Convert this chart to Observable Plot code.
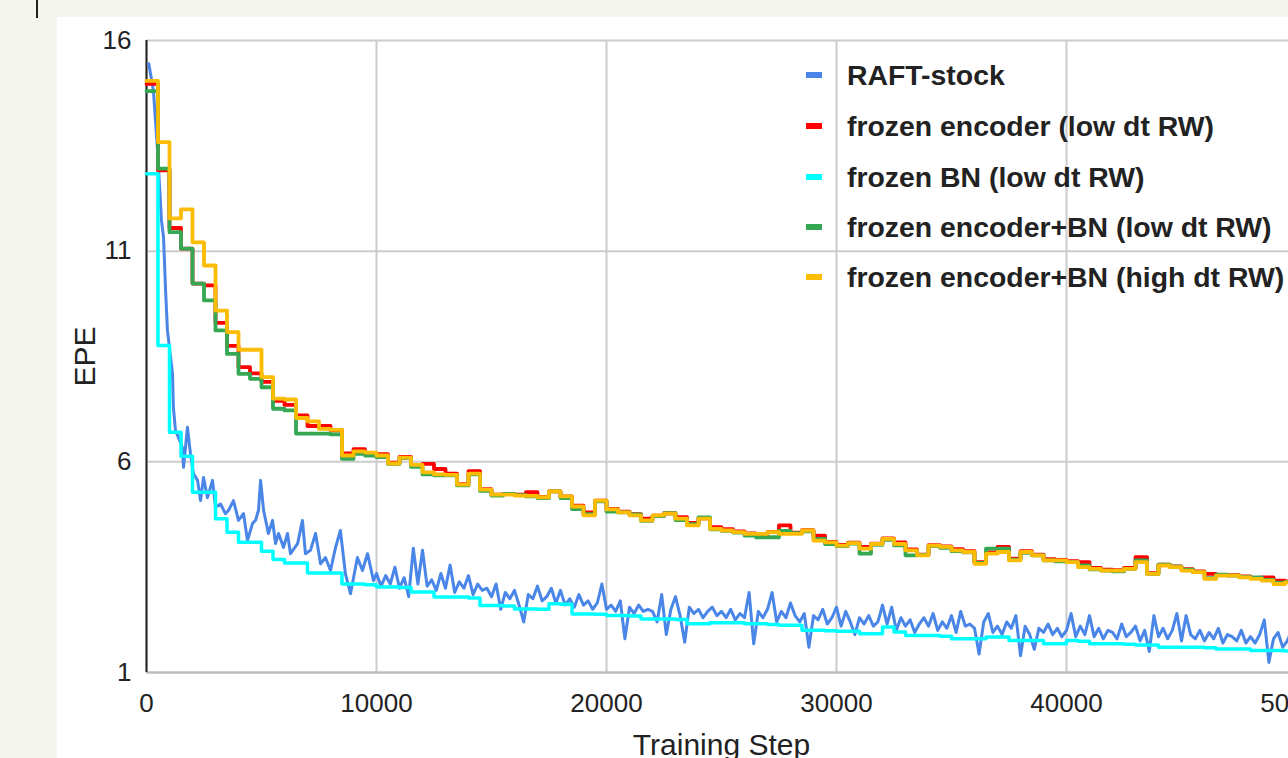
<!DOCTYPE html>
<html>
<head>
<meta charset="utf-8">
<script src="https://cdn.jsdelivr.net/npm/d3@7"></script>
<script src="https://cdn.jsdelivr.net/npm/@observablehq/plot@0.6"></script>
<style>
  html, body { margin: 0; padding: 0; }
  body { width: 1288px; height: 758px; overflow: hidden; background: #f5f6ee; position: relative; font-family: "Liberation Sans", Arial, sans-serif; }
  #edge { position: absolute; left: 36px; top: 0; width: 2px; height: 18px; background: #222; }
  #panel { position: absolute; left: 57px; top: 17px; width: 1231px; height: 741px; background: #fff; overflow: hidden; }
  #chart { position: absolute; left: 0; top: 0; width: 1260px; height: 741px; }
  #chart svg { max-width: none !important; display: block; }
  #legend { position: absolute; left: 0; top: 0; }
  .lg-row { position: absolute; height: 30px; white-space: nowrap; }
  .lg-sw { position: absolute; left: 0; top: 12px; width: 16px; height: 6px; }
  .lg-tx { position: absolute; left: 41px; top: 0; line-height: 30px; font-size: 28.4px; font-weight: bold; color: #222; }
</style>
</head>
<body>
<div id="edge"></div>
<div id="panel"><div id="chart"></div><div id="legend"></div></div>
<script>
// ---- data ----
const seriesNames = ["RAFT-stock", "frozen encoder (low dt RW)", "frozen BN (low dt RW)", "frozen encoder+BN (low dt RW)", "frozen encoder+BN (high dt RW)"];
const seriesColors = ["#4a86e8", "#ff0000", "#00ffff", "#34a853", "#fbbc04"];
const xTicks = [0, 10000, 20000, 30000, 40000, 50000];
const yTicks = [1, 6, 11, 16];

// evaluation steps of the step-like runs (every 500 training steps)
const evalSteps = d3.range(0, 50001, 500);

const frozenEncoderEPE = [
  14.97, 12.92, 11.55, 11.06, 10.23, 10.19, 9.30, 8.75, 8.25, 8.10,
  7.90, 7.45, 7.35, 7.10, 6.85, 6.85, 6.75, 6.20, 6.30, 6.20,
  6.18, 5.98, 6.12, 5.92, 5.95, 5.83, 5.72, 5.47, 5.78, 5.35,
  5.22, 5.24, 5.22, 5.28, 5.17, 5.30, 5.18, 4.96, 4.80, 5.08,
  4.88, 4.82, 4.76, 4.65, 4.72, 4.78, 4.69, 4.55, 4.66, 4.45,
  4.40, 4.35, 4.30, 4.27, 4.33, 4.49, 4.32, 4.38, 4.25, 4.10,
  4.03, 4.08, 3.98, 4.06, 4.18, 4.09, 3.92, 3.80, 4.02, 3.99,
  3.93, 3.88, 3.62, 3.85, 3.98, 3.70, 3.88, 3.80, 3.69, 3.67,
  3.64, 3.62, 3.48, 3.44, 3.43, 3.48, 3.74, 3.36, 3.56, 3.52,
  3.45, 3.40, 3.34, 3.31, 3.31, 3.28, 3.24, 3.26, 3.18, 3.16,
  3.14
];
const frozenBNEPE = [
  12.84, 8.76, 6.70, 6.13, 5.28, 5.28, 4.65, 4.33, 4.09, 4.09,
  3.88, 3.68, 3.60, 3.60, 3.36, 3.36, 3.36, 3.10, 3.10, 3.08,
  3.03, 3.03, 3.02, 2.91, 2.91, 2.79, 2.79, 2.79, 2.77, 2.59,
  2.59, 2.58, 2.51, 2.51, 2.50, 2.63, 2.62, 2.39, 2.39, 2.38,
  2.35, 2.35, 2.34, 2.27, 2.27, 2.27, 2.26, 2.16, 2.16, 2.18,
  2.18, 2.18, 2.16, 2.16, 2.14, 2.12, 2.12, 2.00, 2.00, 1.99,
  1.98, 1.98, 1.92, 1.92, 2.08, 1.96, 1.88, 1.88, 1.88, 1.86,
  1.80, 1.80, 1.80, 1.84, 1.84, 1.76, 1.76, 1.76, 1.68, 1.68,
  1.76, 1.74, 1.68, 1.68, 1.68, 1.67, 1.65, 1.65, 1.60, 1.60,
  1.60, 1.60, 1.59, 1.56, 1.56, 1.56, 1.52, 1.52, 1.52, 1.51,
  1.50
];
const frozenEncBNLowEPE = [
  14.80, 12.96, 11.45, 11.06, 10.23, 9.83, 9.12, 8.56, 8.09, 7.97,
  7.77, 7.26, 7.22, 6.67, 6.67, 6.67, 6.65, 6.07, 6.19, 6.15,
  6.11, 5.95, 6.09, 5.88, 5.70, 5.68, 5.68, 5.44, 5.70, 5.31,
  5.20, 5.24, 5.21, 5.18, 5.14, 5.30, 5.14, 4.88, 4.76, 5.06,
  4.82, 4.80, 4.75, 4.60, 4.71, 4.78, 4.62, 4.52, 4.68, 4.40,
  4.36, 4.32, 4.25, 4.21, 4.21, 4.36, 4.31, 4.35, 4.17, 4.05,
  4.00, 4.06, 3.82, 4.03, 4.15, 4.02, 3.78, 3.79, 4.00, 3.96,
  3.88, 3.85, 3.60, 3.94, 3.94, 3.68, 3.84, 3.78, 3.66, 3.64,
  3.62, 3.54, 3.45, 3.42, 3.40, 3.46, 3.66, 3.34, 3.56, 3.51,
  3.44, 3.38, 3.24, 3.32, 3.30, 3.27, 3.26, 3.20, 3.13, 3.15,
  3.13
];
const frozenEncBNHighEPE = [
  15.04, 13.59, 11.78, 11.99, 11.21, 10.66, 9.59, 9.08, 8.66, 8.66,
  8.01, 7.50, 7.48, 7.04, 6.96, 6.78, 6.76, 6.15, 6.25, 6.22,
  6.15, 5.96, 6.10, 5.93, 5.75, 5.70, 5.69, 5.46, 5.72, 5.34,
  5.22, 5.22, 5.20, 5.19, 5.16, 5.30, 5.18, 4.94, 4.73, 5.08,
  4.87, 4.80, 4.73, 4.61, 4.73, 4.77, 4.65, 4.49, 4.65, 4.41,
  4.37, 4.33, 4.29, 4.29, 4.33, 4.29, 4.29, 4.37, 4.13, 4.09,
  4.01, 4.07, 3.94, 4.05, 4.17, 4.05, 3.90, 3.78, 4.01, 3.98,
  3.90, 3.86, 3.58, 3.82, 3.86, 3.66, 3.86, 3.78, 3.66, 3.66,
  3.62, 3.50, 3.46, 3.42, 3.42, 3.46, 3.62, 3.34, 3.54, 3.50,
  3.42, 3.38, 3.22, 3.30, 3.30, 3.26, 3.22, 3.18, 3.10, 3.14,
  3.12
];

// RAFT-stock: early logged points
const raftEarlySteps = [100, 300, 480, 650, 740, 830, 910, 1130, 1170, 1260, 1390, 1560, 1610, 1780, 1910, 2040, 2220, 2350, 2480, 2650,
  2870, 3000, 3220, 3430, 3570, 3780, 4000, 4220, 4390, 4610, 4740, 4870, 4960, 5090, 5300, 5480, 5610, 5740, 5960, 6130,
  6260, 6570, 6780, 6910, 7130, 7350, 7570, 7780, 8000, 8220, 8430, 8650, 8870, 9170, 9390, 9610, 9870];
const raftEarlyEPE = [15.45, 14.81, 13.39, 11.73, 11.33, 10.07, 9.12, 8.10, 7.29, 6.74, 6.58, 6.34, 5.87, 6.82, 6.20, 5.72, 5.56, 5.08, 5.63, 5.15,
  5.56, 4.92, 5.00, 4.77, 4.85, 5.08, 4.61, 4.77, 4.13, 4.54, 4.61, 4.85, 5.56, 4.85, 4.30, 4.61, 4.06, 4.30, 3.97, 4.30,
  3.82, 4.06, 4.61, 3.82, 3.90, 4.30, 3.58, 3.73, 3.42, 3.97, 4.37, 3.34, 2.87, 3.73, 3.42, 3.82, 3.18];
// RAFT-stock: later points, logged every 200 steps from 10000
const raftLateSteps = d3.range(10000, 50001, 200);
const raftLateEPE = [
  3.35, 3.05, 3.30, 3.10, 3.50, 3.00, 3.25, 2.80, 3.95, 3.10,
  3.90, 3.05, 3.20, 2.95, 3.35, 3.00, 3.55, 2.90, 3.15, 3.00,
  3.30, 2.85, 3.10, 2.95, 3.00, 2.80, 3.10, 2.50, 2.90, 2.75,
  2.95, 2.60, 2.20, 2.85, 2.75, 3.05, 2.70, 2.80, 3.00, 2.65,
  2.95, 2.60, 2.75, 2.55, 2.85, 2.60, 2.70, 2.50, 2.65, 3.10,
  2.50, 2.60, 2.45, 2.70, 1.80, 2.55, 2.40, 2.60, 2.45, 2.50,
  2.45, 2.20, 2.85, 1.90, 2.50, 2.80, 2.35, 1.72, 2.55, 2.40,
  2.50, 2.30, 2.45, 2.55, 2.35, 2.45, 2.30, 2.50, 2.25, 2.40,
  2.30, 2.90, 1.68, 2.45, 2.30, 2.50, 2.90, 2.20, 2.45, 2.30,
  2.65, 2.35, 2.20, 2.40, 1.60, 2.35, 2.25, 2.50, 2.15, 2.30,
  2.55, 2.10, 2.45, 2.20, 1.90, 2.30, 2.15, 2.35, 2.10, 2.20,
  2.60, 2.15, 2.55, 2.00, 2.30, 2.10, 2.25, 1.95, 2.15, 2.30,
  2.10, 2.40, 2.00, 2.20, 2.05, 2.35, 1.95, 2.45, 2.10, 2.15,
  2.05, 1.44, 2.20, 2.40, 1.95, 2.10, 1.90, 2.20, 2.05, 2.35,
  1.40, 2.10, 1.90, 1.55, 2.05, 1.95, 2.15, 1.90, 2.05, 1.85,
  2.00, 2.40, 1.85, 2.10, 1.90, 2.35, 1.85, 2.05, 1.80, 2.00,
  1.95, 1.80, 2.15, 1.85, 1.95, 2.10, 1.75, 2.00, 1.50, 2.35,
  1.85, 2.05, 1.80, 2.00, 2.40, 1.75, 2.35, 1.90, 1.80, 2.00,
  1.75, 1.95, 1.80, 2.05, 1.70, 1.90, 1.85, 1.75, 2.00, 1.70,
  1.85, 1.70, 1.90, 2.25, 1.24, 1.80, 1.95, 1.60, 1.75, 2.00,
  1.40
];

// ---- tables ----
const raft = raftEarlySteps.map((s, i) => ({step: s, epe: raftEarlyEPE[i]}))
  .concat(raftLateSteps.map((s, i) => ({step: s, epe: raftLateEPE[i]})));
const stepTable = (vals) => evalSteps.map((s, i) => ({step: s, epe: vals[i]}));

const chart = Plot.plot({
  width: 1260,
  height: 741,
  marginLeft: 89,
  marginRight: 21,
  marginTop: 23,
  marginBottom: 86,
  style: {fontFamily: "'Liberation Sans', Arial, sans-serif", fontSize: "26px", color: "#222", background: "#fff", overflow: "visible", maxWidth: "none"},
  x: {domain: [0, 50000]},
  y: {domain: [1, 16]},
  marks: [
    Plot.gridX(xTicks, {stroke: "#cccccc", strokeOpacity: 1, strokeWidth: 2}),
    Plot.gridY(yTicks, {stroke: "#cccccc", strokeOpacity: 1, strokeWidth: 2}),
    Plot.ruleY([1], {stroke: "#bbbbbb", strokeWidth: 2}),
    Plot.ruleX([0], {stroke: "#222", strokeWidth: 2}),
    Plot.axisX(xTicks, {tickSize: 0, tickPadding: 21, tickFormat: d => String(d), label: null, fontSize: 26, fill: "#222"}),
    Plot.axisY(yTicks, {tickSize: 0, tickPadding: 15, label: null, fontSize: 26, fill: "#222"}),
    Plot.text(["Training Step"], {frameAnchor: "bottom", dy: 73, text: d => d, fontSize: 30, fill: "#222", lineAnchor: "middle"}),
    Plot.text(["EPE"], {frameAnchor: "left", dx: -61, dy: 30, rotate: -90, text: d => d, fontSize: 30, fill: "#222", lineAnchor: "middle"}),
    Plot.line(raft, {x: "step", y: "epe", stroke: seriesColors[0], strokeWidth: 3}),
    Plot.line(stepTable(frozenEncoderEPE), {x: "step", y: "epe", curve: "step-after", stroke: seriesColors[1], strokeWidth: 3.8}),
    Plot.line(stepTable(frozenBNEPE), {x: "step", y: "epe", curve: "step-after", stroke: seriesColors[2], strokeWidth: 3.5}),
    Plot.line(stepTable(frozenEncBNLowEPE), {x: "step", y: "epe", curve: "step-after", stroke: seriesColors[3], strokeWidth: 3.8}),
    Plot.line(stepTable(frozenEncBNHighEPE), {x: "step", y: "epe", curve: "step-after", stroke: seriesColors[4], strokeWidth: 3.8})
  ]
});
document.getElementById("chart").appendChild(chart);

// ---- legend ----
const legendRowsY = [58, 109, 160, 210, 260];
const legend = document.getElementById("legend");
seriesNames.forEach((name, i) => {
  const row = document.createElement("div");
  row.className = "lg-row";
  row.style.left = "749px";
  row.style.top = (legendRowsY[i] - 15) + "px";
  const sw = document.createElement("div");
  sw.className = "lg-sw";
  sw.style.background = seriesColors[i];
  const tx = document.createElement("div");
  tx.className = "lg-tx";
  tx.textContent = name;
  row.appendChild(sw);
  row.appendChild(tx);
  legend.appendChild(row);
});
</script>
</body>
</html>
